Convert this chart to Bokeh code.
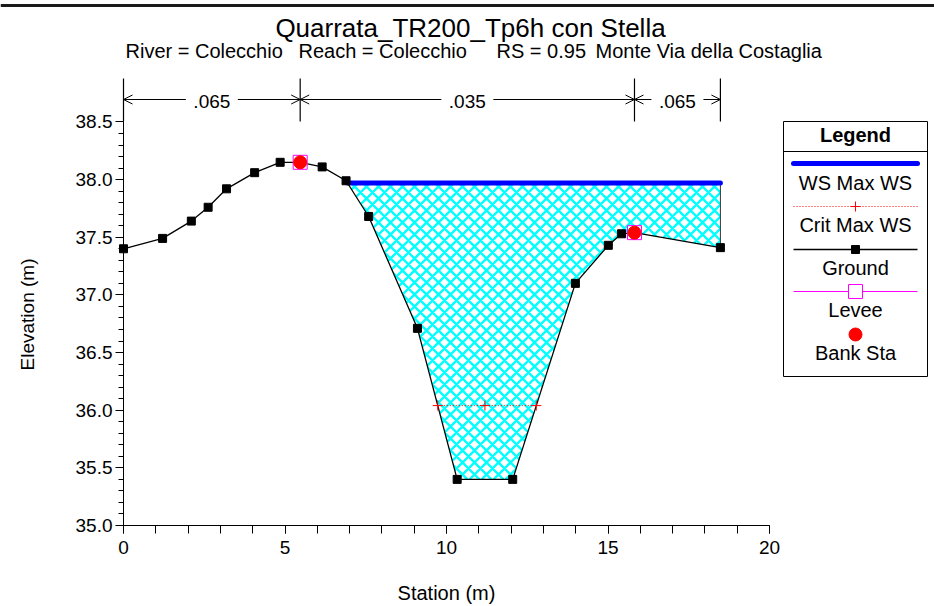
import numpy as np
from bokeh.plotting import figure
from bokeh.models import (Range1d, FixedTicker, ColumnDataSource, Arrow, OpenHead,
                          NumeralTickFormatter)
from bokeh.core.properties import value
from bokeh.embed import file_html
from bokeh.resources import INLINE

# ---------------- data ----------------
title_text = "Quarrata_TR200_Tp6h con Stella"
subtitle_parts = ["River = Colecchio", "Reach = Colecchio", "RS = 0.95", "Monte Via della Costaglia"]
x_label = "Station (m)"
y_label = "Elevation (m)"

ground_station = [0.0, 1.21, 2.10, 2.62, 3.19, 4.06, 4.85, 5.47, 6.15, 6.89, 7.59, 9.10,
                  10.33, 12.05, 13.99, 15.01, 15.42, 15.82, 18.48]
ground_elev = [37.40, 37.49, 37.64, 37.76, 37.92, 38.06, 38.15, 38.15, 38.11, 37.99, 37.68, 36.71,
               35.40, 35.40, 37.10, 37.43, 37.53, 37.54, 37.41]
bank_station = [5.47, 15.82]
bank_elev = [38.15, 37.54]
levee_station = [5.47, 15.82]
levee_elev = [38.15, 37.54]
ws_elev = 37.97
crit_station = [9.73, 11.19, 12.78]
crit_elev = 36.04
n_values = [".065", ".035", ".065"]

x_ticks = [0, 5, 10, 15, 20]
x_minor = list(range(0, 21))
y_ticks = [35.0, 35.5, 36.0, 36.5, 37.0, 37.5, 38.0, 38.5]
y_minor = [round(35.0 + 0.1 * k, 1) for k in range(36)]

legend_title = "Legend"
legend_labels = ["WS Max WS", "Crit Max WS", "Ground", "Levee", "Bank Sta"]

# ---------------- layout helpers (picture pixels -> data) ----------------
W, H = 934, 606
PAGE_L, PAGE_T = 0, 0
PX_X0, PX_PER_X = 123.0, 32.3
PY_Y0, PX_PER_Y = 525.0, 115.3
Y_BASE = y_ticks[0]


def sx(px):
    return (px - PX_X0) / PX_PER_X


def sy(py):
    return Y_BASE + (PY_Y0 - py) / PX_PER_Y


FONT = value("Liberation Sans")
BLUE, CYAN, RED, MAGENTA = "#0000FF", "#00FFFF", "#FF0000", "#FF00FF"

p = figure(width=W, height=H,
           x_range=Range1d(sx(PAGE_L), sx(PAGE_L + W)),
           y_range=Range1d(sy(PAGE_T + H), sy(PAGE_T)),
           toolbar_location=None, output_backend="svg",
           min_border_left=0, min_border_right=0, min_border_top=0, min_border_bottom=0)
p.outline_line_color = None
p.xgrid.visible = False
p.ygrid.visible = False
p.background_fill_color = "white"
p.border_fill_color = "white"

# axes (placed at fixed data locations)
xa = p.xaxis[0]
xa.fixed_location = Y_BASE
xa.bounds = (x_ticks[0], x_ticks[-1])
xa.ticker = FixedTicker(ticks=x_ticks, minor_ticks=x_minor)
xa.major_tick_in = 0
xa.major_tick_out = 8
xa.minor_tick_in = 0
xa.minor_tick_out = 8
xa.major_label_standoff = 7
xa.major_label_text_font = "Liberation Sans"
xa.major_label_text_font_size = "19px"
xa.major_label_text_color = "black"
xa.axis_line_color = "black"
xa.major_tick_line_color = "black"
xa.minor_tick_line_color = "black"

ya = p.yaxis[0]
ya.fixed_location = x_ticks[0]
ya.bounds = (y_ticks[0], y_ticks[-1])
ya.ticker = FixedTicker(ticks=y_ticks, minor_ticks=y_minor)
ya.formatter = NumeralTickFormatter(format="0.0")
ya.major_tick_in = 0
ya.major_tick_out = 8
ya.minor_tick_in = 0
ya.minor_tick_out = 5
ya.major_label_standoff = 3
ya.major_label_text_font = "Liberation Sans"
ya.major_label_text_font_size = "19px"
ya.major_label_text_color = "black"
ya.axis_line_color = "black"
ya.major_tick_line_color = "black"
ya.minor_tick_line_color = "black"

# ---------------- water-filled area ----------------
g_x = np.array(ground_station)
g_y = np.array(ground_elev)
i = next(k for k in range(len(g_y) - 1) if g_y[k] >= ws_elev and g_y[k + 1] < ws_elev)
x_left = g_x[i] + (g_y[i] - ws_elev) / (g_y[i] - g_y[i + 1]) * (g_x[i + 1] - g_x[i])
poly_x = [x_left] + list(g_x[i + 1:]) + [g_x[-1]]
poly_y = [ws_elev] + list(g_y[i + 1:]) + [ws_elev]
p.patch(poly_x, poly_y, fill_alpha=0, line_alpha=0,
        hatch_pattern="diagonal_cross", hatch_color=CYAN, hatch_scale=12, hatch_weight=2.3)
p.line([g_x[-1], g_x[-1]], [g_y[-1], ws_elev], line_color="#333333", line_width=1)

# WS line
p.line([x_left, g_x[-1]], [ws_elev, ws_elev], line_color=BLUE, line_width=5, line_cap="round")

# ground
p.line(g_x, g_y, line_color="black", line_width=1.3)
mask = ~np.isin(g_x, bank_station)
p.scatter(g_x[mask], g_y[mask], marker="square", size=8, fill_color="black", line_color="black")

# critical WS
p.line(crit_station, [crit_elev] * len(crit_station), line_color=RED, line_width=1, line_dash="1 2")
p.scatter(crit_station, [crit_elev] * len(crit_station), marker="cross", size=10, line_color=RED, line_width=1)

# levee and bank stations
p.scatter(levee_station, levee_elev, marker="square", size=14, fill_color="white", line_color=MAGENTA, line_width=1)
p.scatter(bank_station, bank_elev, marker="circle", size=13, fill_color=RED, line_color=RED)

# ---------------- Manning's n annotation ----------------
n_bounds = [g_x[0]] + bank_station + [g_x[-1]]
ya_n = sy(99)
p.segment(x0=n_bounds, y0=[sy(121)] * 4, x1=n_bounds, y1=[sy(78)] * 4, line_color="black", line_width=1.2)
mids = [(n_bounds[k] + n_bounds[k + 1]) / 2 for k in range(3)]
gap = 26 / PX_PER_X
arr_src = ColumnDataSource(dict(
    x0=[m - gap for m in mids] + [m + gap for m in mids],
    x1=[n_bounds[k] for k in range(3)] + [n_bounds[k + 1] for k in range(3)],
    y=[ya_n] * 6))
p.add_layout(Arrow(end=OpenHead(size=9, line_width=1, line_color="black"),
                   x_start="x0", y_start="y", x_end="x1", y_end="y",
                   source=arr_src, line_width=1, line_color="black"))
# text y values below are the visual centre of the capitals
p.text(x=mids, y=[sy(100.5)] * 3, text=n_values, text_font=FONT, text_font_size="19px",
       text_align="center", text_baseline="alphabetic", text_color="black")

# ---------------- titles ----------------
p.segment(x0=[sx(PAGE_L)], y0=[sy(5)], x1=[sx(PAGE_L + W)], y1=[sy(5)], line_color="#1a1a1a", line_width=3)
p.text(x=[sx(470)], y=[sy(27)], text=[title_text], text_font=FONT, text_font_size="26px",
       text_align="center", text_baseline="alphabetic", text_color="black")
p.text(x=[sx(125), sx(298), sx(496), sx(595)], y=[sy(50)] * 4, text=subtitle_parts,
       text_font=FONT, text_font_size="20px", text_align="left", text_baseline="alphabetic",
       text_color="black")

# axis labels
p.text(x=[(x_ticks[0] + x_ticks[-1]) / 2], y=[sy(592)], text=[x_label], text_font=FONT,
       text_font_size="20px", text_align="center", text_baseline="alphabetic", text_color="black")
p.text(x=[sx(26.5)], y=[sy(314)], text=[y_label], text_font=FONT, angle=np.pi / 2,
       text_font_size="19px", text_align="center", text_baseline="alphabetic", text_color="black")

# ---------------- legend ----------------
lx0, lx1 = sx(783), sx(927)
lc = sx(855)
p.quad(left=[lx0], right=[lx1], top=[sy(121)], bottom=[sy(376)], fill_color="white", line_color="black", line_width=1)
p.segment(x0=[lx0], y0=[sy(151)], x1=[lx1], y1=[sy(151)], line_color="black", line_width=1)
p.text(x=[lc], y=[sy(134)], text=[legend_title], text_font=FONT, text_font_size="20px",
       text_font_style="bold", text_align="center", text_baseline="alphabetic", text_color="black")
p.text(x=[lc] * 5, y=[sy(182), sy(224.5), sy(267), sy(309.5), sy(352)], text=legend_labels,
       text_font=FONT, text_font_size="20px", text_align="center", text_baseline="alphabetic",
       text_color="black")
ga, gb = sx(793), sx(917)
p.line([ga, gb], [sy(163)] * 2, line_color=BLUE, line_width=5, line_cap="round")
p.line([ga, gb], [sy(206)] * 2, line_color=RED, line_width=1, line_dash="1 2")
p.scatter([lc], [sy(206)], marker="cross", size=10, line_color=RED, line_width=1)
p.line([ga, gb], [sy(249)] * 2, line_color="black", line_width=1.3)
p.scatter([lc], [sy(249)], marker="square", size=8, fill_color="black", line_color="black")
p.line([ga, gb], [sy(291)] * 2, line_color=MAGENTA, line_width=1)
p.scatter([lc], [sy(291)], marker="square", size=14, fill_color="white", line_color=MAGENTA, line_width=1)
p.scatter([lc], [sy(334)], marker="circle", size=13, fill_color=RED, line_color=RED)

open("out.html", "w").write(file_html(p, INLINE))
